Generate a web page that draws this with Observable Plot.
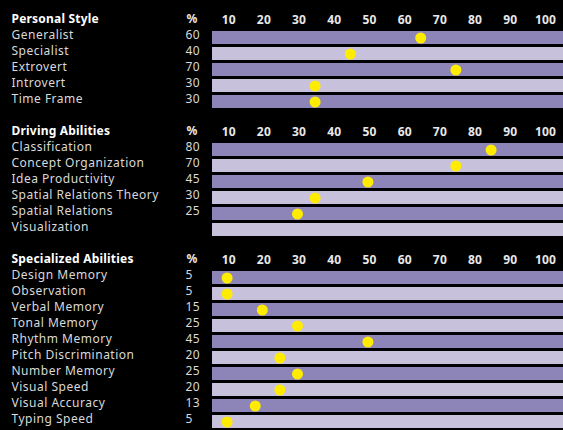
<!DOCTYPE html>
<html>
<head>
<meta charset="utf-8">
<script src="https://cdn.jsdelivr.net/npm/d3@7"></script>
<script src="https://cdn.jsdelivr.net/npm/@observablehq/plot@0.6"></script>
<style>
  html, body { margin: 0; padding: 0; background: #000; }
  #chart { width: 563px; height: 430px; overflow: hidden; }
</style>
</head>
<body>
<div id="chart"></div>
<script>
// ---- data ----
const sectionTitles = ["Personal Style", "Driving Abilities", "Specialized Abilities"];
const personalLabels = ["Generalist", "Specialist", "Extrovert", "Introvert", "Time Frame"];
const personalValues = [60, 40, 70, 30, 30];
const drivingLabels = ["Classification", "Concept Organization", "Idea Productivity", "Spatial Relations Theory", "Spatial Relations", "Visualization"];
const drivingValues = [80, 70, 45, 30, 25, null];
const specializedLabels = ["Design Memory", "Observation", "Verbal Memory", "Tonal Memory", "Rhythm Memory", "Pitch Discrimination", "Number Memory", "Visual Speed", "Visual Accuracy", "Typing Speed"];
const specializedValues = [5, 5, 15, 25, 45, 20, 25, 20, 13, 5];
const tickValues = [10, 20, 30, 40, 50, 60, 70, 80, 90, 100];
const percentHeader = "%";

// ---- build rows ----
const sections = [
  {title: sectionTitles[0], labels: personalLabels, values: personalValues},
  {title: sectionTitles[1], labels: drivingLabels, values: drivingValues},
  {title: sectionTitles[2], labels: specializedLabels, values: specializedValues}
];
const rows = [];
sections.forEach((s, si) => {
  rows.push({id: `h${si}`, kind: "header", label: s.title});
  s.labels.forEach((l, i) => rows.push({id: `r${si}_${i}`, kind: "item", label: l, value: s.values[i], idx: i}));
  if (si < sections.length - 1) rows.push({id: `b${si}`, kind: "blank"});
});
const headers = rows.filter(d => d.kind === "header");
const items = rows.filter(d => d.kind === "item");
const tickRows = headers.flatMap(h => tickValues.map(v => ({id: h.id, v})));

const xDomain = [0.85, 100.57];
const dark = "#8d84b7", light = "#c8c1dc";

const chart = Plot.plot({
  width: 563,
  height: 430,
  marginLeft: 212,
  marginRight: 0,
  marginTop: 12,
  marginBottom: 0,
  style: {background: "#000", fontFamily: "'Noto Sans', sans-serif", letterSpacing: "0.5px"},
  x: {domain: xDomain, axis: null},
  y: {domain: rows.map(d => d.id), axis: null, paddingInner: 0.19, paddingOuter: 0.095},
  marks: [
    Plot.barX(items.filter(d => d.idx % 2 === 0), {x1: () => xDomain[0], x2: () => xDomain[1], y: "id", fill: dark}),
    Plot.barX(items.filter(d => d.idx % 2 === 1), {x1: () => xDomain[0], x2: () => xDomain[1], y: "id", fill: light}),
    Plot.dot(items.filter(d => d.value != null), {x: "value", y: "id", r: 5.5, fill: "#ffec00"}),
    Plot.text(items, {y: "id", text: "label", frameAnchor: "left", textAnchor: "start", dx: -201, dy: -2.5, fill: "#d9d9d9", fontSize: 12}),
    Plot.text(items, {y: "id", text: d => d.value == null ? "" : String(d.value), frameAnchor: "left", textAnchor: "start", dx: -27, dy: -2.5, fill: "#d9d9d9", fontSize: 12}),
    Plot.text(headers, {y: "id", text: "label", frameAnchor: "left", textAnchor: "start", dx: -201, dy: -3, fill: "#fff", fontSize: 12, fontWeight: "bold"}),
    Plot.text(headers, {y: "id", text: () => percentHeader, frameAnchor: "left", textAnchor: "start", dx: -26, dy: -3, fill: "#e8e8e8", fontSize: 12, fontWeight: "bold"}),
    Plot.text(tickRows, {x: "v", y: "id", text: d => String(d.v), dx: -16, dy: -2, fill: "#e8e8e8", fontSize: 12, fontWeight: "bold"})
  ]
});
d3.select(chart).selectAll("g[font-weight=bold]").style("letter-spacing", "0.2px");
document.getElementById("chart").appendChild(chart);
</script>
</body>
</html>
